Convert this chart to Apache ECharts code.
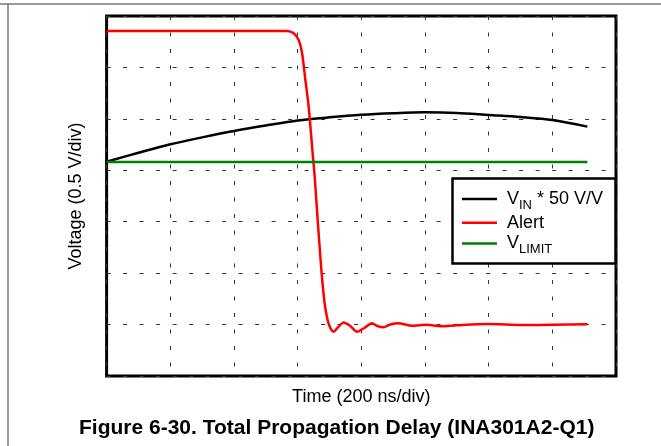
<!DOCTYPE html>
<html>
<head>
<meta charset="utf-8">
<script src="https://cdn.jsdelivr.net/npm/echarts@6/dist/echarts.min.js"></script>
<style>html,body{margin:0;padding:0;background:#fff}#c{width:661px;height:446px}</style>
</head>
<body>
<div id="c"></div>
<script>
// Time axis in divisions (200 ns/div), voltage in divisions (0.5 V/div)
var vinTime   = [0, 0.5, 1.0, 1.5, 2.0, 2.5, 3.0, 3.5, 4.0, 4.5, 5.0, 5.5, 6.0, 6.5, 7.0, 7.55];
var vinVolt   = [4.167, 4.34, 4.505, 4.64, 4.763, 4.87, 4.968, 5.03, 5.08, 5.11, 5.127, 5.115, 5.075, 5.035, 4.978, 4.849];
var alertTime = [0, 1.0, 2.0, 2.835, 2.938, 3.016, 3.07, 3.122, 3.173, 3.236, 3.266, 3.315, 3.373, 3.424, 3.471, 3.514, 3.565, 3.639, 3.722, 3.827, 3.933, 4.047, 4.168, 4.251, 4.35, 4.455, 4.585, 4.795, 5.031, 5.239, 5.501, 5.972, 6.546, 7.012, 7.55];
var alertVolt = [6.708, 6.708, 6.708, 6.708, 6.663, 6.533, 6.275, 5.755, 5.236, 4.33, 3.908, 3.033, 2.061, 1.414, 1.089, 0.933, 0.861, 0.953, 1.04, 0.972, 0.861, 0.933, 1.025, 0.972, 0.947, 1.001, 1.025, 0.978, 0.997, 0.966, 0.986, 1.011, 0.992, 0.997, 1.005];
var limitTime = [0, 7.55];
var limitVolt = [4.16, 4.16];
var seriesNames = ['VIN * 50 V/V', 'Alert', 'VLIMIT'];
var xTitle = 'Time (200 ns/div)';
var yTitle = 'Voltage (0.5 V/div)';
var caption = 'Figure 6-30. Total Propagation Delay (INA301A2-Q1)';

function pairs(xs, ys) { return xs.map(function (x, i) { return [x, ys[i]]; }); }

var FONT = '"Liberation Sans", Arial, sans-serif';
var chart = echarts.init(document.getElementById('c'), null, {renderer: 'canvas'});
var gridDash = {color: '#333', width: 1, type: [4, 12.5]};
chart.setOption({
  animation: false,
  backgroundColor: '#fff',
  title: {
    text: caption, left: 79, top: 418, padding: 0,
    textStyle: {fontFamily: FONT, fontSize: 21, fontWeight: 'bold', color: '#000'}
  },
  grid: {left: 106.6, right: 45, top: 16, bottom: 70, show: true, borderColor: '#000', borderWidth: 3, backgroundColor: 'transparent'},
  xAxis: {
    type: 'value', min: 0, max: 8, interval: 1,
    name: xTitle, nameLocation: 'middle', nameGap: 12,
    nameTextStyle: {fontFamily: FONT, fontSize: 18, color: '#000'},
    axisLine: {show: false}, axisTick: {show: false}, axisLabel: {show: false},
    splitLine: {show: true, lineStyle: gridDash}
  },
  yAxis: {
    type: 'value', min: 0, max: 7, interval: 1,
    name: yTitle, nameLocation: 'middle', nameGap: 22,
    nameTextStyle: {fontFamily: FONT, fontSize: 18, color: '#000'},
    axisLine: {show: false}, axisTick: {show: false}, axisLabel: {show: false},
    splitLine: {show: true, lineStyle: gridDash}
  },
  legend: {
    orient: 'vertical', left: 462, top: 189, padding: 0, itemGap: 0.7,
    itemWidth: 35, itemHeight: 2.5, icon: 'rect', z: 10,
    data: seriesNames,
    formatter: function (name) {
      if (name === seriesNames[0]) return '{m|V}{s|IN}{m| * 50 V/V}';
      if (name === seriesNames[2]) return '{m|V}{s|LIMIT}';
      return '{m|' + name + '}';
    },
    textStyle: {
      fontFamily: FONT, fontSize: 18, color: '#000', lineHeight: 20, padding: [0, 0, 0, 5],
      rich: {
        m: {fontFamily: FONT, fontSize: 18, color: '#000', lineHeight: 20},
        s: {fontFamily: FONT, fontSize: 13, color: '#000', lineHeight: 20, verticalAlign: 'bottom', padding: [0, 0, -3, 0]}
      }
    }
  },
  graphic: [
    {type: 'line', shape: {x1: 0, y1: 4, x2: 661, y2: 4}, style: {stroke: '#777', lineWidth: 1.5}, z: 1},
    {type: 'line', shape: {x1: 8, y1: 4, x2: 8, y2: 446}, style: {stroke: '#777', lineWidth: 1.5}, z: 1},
    {type: 'rect', shape: {x: 452.5, y: 178.5, width: 163, height: 85}, style: {fill: '#fff', stroke: '#000', lineWidth: 2.5}, z: 3}
  ],
  series: [
    {name: seriesNames[0], type: 'line', data: pairs(vinTime, vinVolt), showSymbol: false, symbol: 'none', smooth: 0.3, color: '#000', lineStyle: {color: '#000', width: 2.5}},
    {name: seriesNames[1], type: 'line', data: pairs(alertTime, alertVolt), showSymbol: false, symbol: 'none', smooth: 0.25, color: '#ff0000', lineStyle: {color: '#ff0000', width: 2.5}},
    {name: seriesNames[2], type: 'line', data: pairs(limitTime, limitVolt), showSymbol: false, symbol: 'none', color: '#008000', lineStyle: {color: '#008000', width: 2.5}}
  ]
});
</script>
</body>
</html>
